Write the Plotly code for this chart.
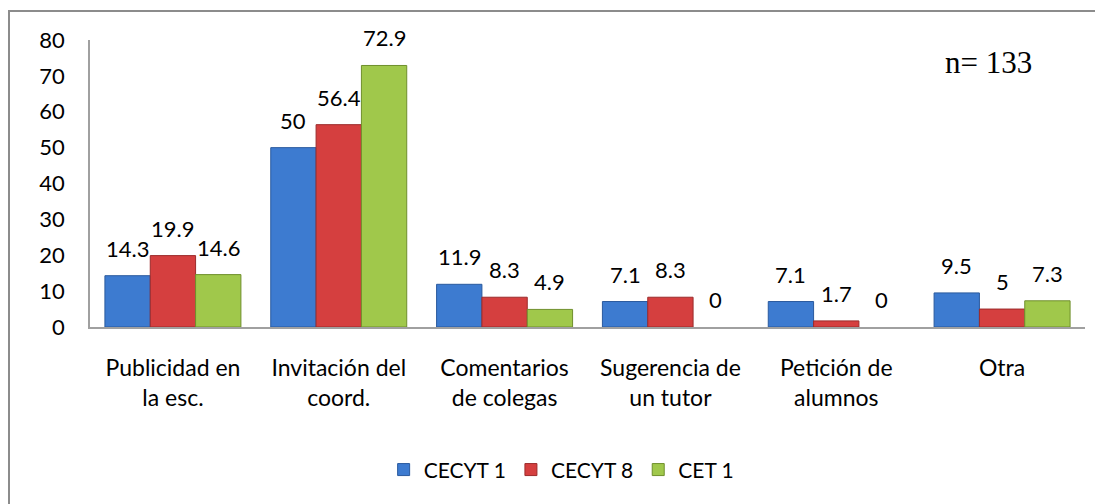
import plotly.graph_objects as go

categorias = ["Publicidad en<br>la esc.", "Invitación del<br>coord.", "Comentarios<br>de colegas",
              "Sugerencia de<br>un tutor", "Petición de<br>alumnos", "Otra"]
cecyt1 = [14.3, 50, 11.9, 7.1, 7.1, 9.5]
cecyt8 = [19.9, 56.4, 8.3, 8.3, 1.7, 5]
cet1 = [14.6, 72.9, 4.9, 0, 0, 7.3]
series = [("CECYT 1", cecyt1, "#3d7bd0", "#2a5a9e"),
          ("CECYT 8", cecyt8, "#d53f3f", "#9c2b2b"),
          ("CET 1", cet1, "#a0c84b", "#6f8f2c")]

fuente = "Lato, 'Open Sans', sans-serif"

# la página tiene 8 px de margen en el body, se compensa con el tamaño
W, H = 1095, 496
ml, mr, mt, mb = 82, 18, 32, 177
gap = 0.18
ancho_plot = W - ml - mr
ancho_barra = ancho_plot / len(categorias) * (1 - gap) / len(series)

fig = go.Figure()
for i, (nombre, vals, color, borde) in enumerate(series):
    fig.add_trace(go.Bar(
        x=categorias, y=vals, name=nombre,
        marker=dict(color=color,
                    line=dict(color=borde, width=[1 if v else 0 for v in vals])),
    ))
    for c, v in zip(categorias, vals):
        fig.add_annotation(x=c, y=v, text=f"{v:g}", showarrow=False,
                           xshift=(i - 1) * ancho_barra, yshift=12, yanchor="bottom",
                           font=dict(size=22, color="black", family=fuente))

fig.update_layout(
    width=W, height=H,
    margin=dict(l=ml, r=mr, t=mt, b=mb),
    paper_bgcolor="white", plot_bgcolor="white",
    barmode="group", bargap=gap, bargroupgap=0,
    font=dict(family=fuente, size=22, color="black"),
    showlegend=True,
    legend=dict(orientation="h", x=0.474, xanchor="center", y=-0.498, yanchor="middle",
                font=dict(size=21), itemwidth=30, traceorder="normal"),
)
fig.update_yaxes(range=[0, 80], dtick=10, showgrid=False, zeroline=False,
                 showline=True, linecolor="#a0a0a0", linewidth=1.5,
                 ticks="", ticklabelstandoff=19)
fig.update_xaxes(showline=True, linecolor="#a0a0a0", linewidth=1.5, ticks="",
                 ticklabelstandoff=20, tickfont=dict(size=23))

# marco exterior del gráfico (solo visible a la izquierda y arriba)
fig.add_shape(type="rect", xref="paper", yref="paper",
              x0=-81 / ancho_plot, x1=1.1, y0=-0.7, y1=1 + 29 / 287,
              line=dict(color="#8c8c8c", width=2), layer="below")

fig.add_annotation(text="n= 133", xref="paper", yref="paper",
                   x=0.9035, y=0.923, xanchor="center", yanchor="middle", showarrow=False,
                   font=dict(family="'Liberation Serif', 'Times New Roman', serif", size=31))

fig.write_html("out.html")
